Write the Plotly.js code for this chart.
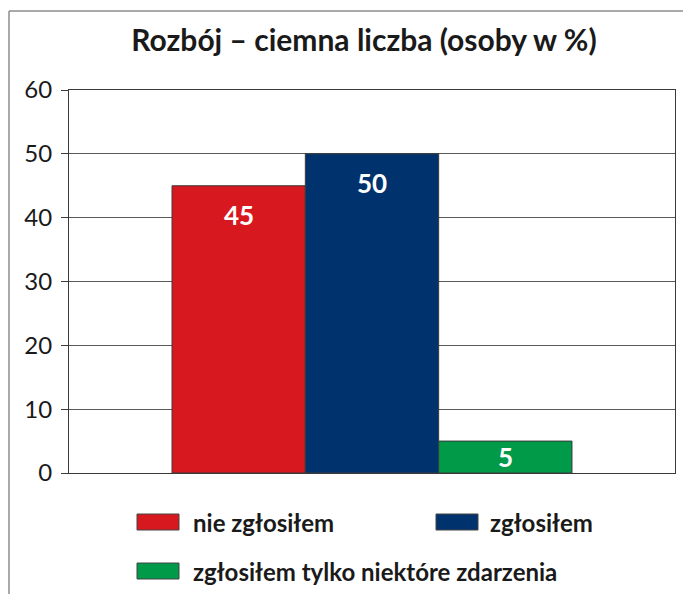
<!DOCTYPE html>
<html>
<head>
<meta charset="utf-8">
<script src="https://cdn.plot.ly/plotly-3.0.1.min.js"></script>
<style>html,body{margin:0;padding:0;background:#fff;}#chart{width:683px;height:594px;}</style>
</head>
<body>
<div id="chart"></div>
<script>
// ---- data ----
const categories = ['Rozbój'];
const seriesNames = ['nie zgłosiłem', 'zgłosiłem', 'zgłosiłem tylko niektóre zdarzenia'];
const seriesValues = [[45], [50], [5]];
const seriesColors = ['#d7191f', '#00326e', '#009a48'];
const titleText = 'Rozbój – ciemna liczba (osoby w %)';
const yTicks = [0, 10, 20, 30, 40, 50, 60];

// ---- layout constants ----
const W = 683, H = 594;
const M = {l: 69, r: 8, t: 90, b: 121};
const PW = W - M.l - M.r, PH = H - M.t - M.b;
const YMAX = 60;
const bargap = 0.34;
const FONT = 'Lato, "Open Sans", sans-serif';
const px2x = px => (px - M.l) / PW;
const py2y = py => (H - M.b - py) / PH;

const traces = seriesNames.map((name, i) => ({
  type: 'bar',
  name: name,
  x: [0],
  y: seriesValues[i],
  marker: {color: seriesColors[i], line: {color: '#3a3a3a', width: 1}},
  hoverinfo: 'name+y',
  showlegend: false
}));

// value labels on bars (positioned via bar-group geometry)
const n = seriesNames.length;
const bw = (1 - bargap) / n;
const LABEL_SIZE = 26, LABEL_PAD = 11;
const annotations = [];
seriesValues.forEach((vals, i) => {
  vals.forEach((v, j) => {
    const hPx = v / YMAX * PH;
    const fitsTop = hPx > LABEL_SIZE + 2 * LABEL_PAD;
    annotations.push({
      xref: 'x', yref: 'y',
      x: j + (i - (n - 1) / 2) * bw,
      y: fitsTop ? v : v / 2,
      yanchor: fitsTop ? 'top' : 'middle', yshift: fitsTop ? -LABEL_PAD : 0,
      text: '<b>' + v + '</b>', showarrow: false,
      font: {family: FONT, size: LABEL_SIZE, color: '#ffffff'}
    });
  });
});

// custom legend (two rows)
const legendPos = [
  {sx: 137, sy: 514, tx: 193},
  {sx: 436, sy: 514, tx: 490},
  {sx: 137, sy: 563, tx: 193}
];
const shapes = [];
seriesNames.forEach((name, i) => {
  const p = legendPos[i];
  shapes.push({
    type: 'rect', xref: 'paper', yref: 'paper', layer: 'above',
    x0: px2x(p.sx), x1: px2x(p.sx + 42), y0: py2y(p.sy), y1: py2y(p.sy + 16),
    fillcolor: seriesColors[i], line: {color: '#444', width: 1}
  });
  annotations.push({
    xref: 'paper', yref: 'paper', x: px2x(p.tx - 2), y: py2y(p.sy + 8),
    xanchor: 'left', yanchor: 'middle', showarrow: false,
    text: '<b>' + name + '</b>',
    font: {family: FONT, size: 24, color: '#1a1a1a'}
  });
});

// figure frame (top + left)
shapes.push({type: 'line', xref: 'paper', yref: 'paper', x0: px2x(9), x1: px2x(W + 2), y0: py2y(11), y1: py2y(11), line: {color: '#8c8c8c', width: 1.5}});
shapes.push({type: 'line', xref: 'paper', yref: 'paper', x0: px2x(9), x1: px2x(9), y0: py2y(11), y1: py2y(H + 2), line: {color: '#8c8c8c', width: 1.5}});

const layout = {
  width: W, height: H,
  margin: M,
  paper_bgcolor: '#ffffff', plot_bgcolor: '#ffffff',
  barmode: 'group', bargap: bargap, bargroupgap: 0,
  showlegend: false,
  title: {
    text: '<b>' + titleText + '</b>',
    x: 364 / W, xref: 'container', xanchor: 'center',
    y: 1 - 40 / H, yref: 'container', yanchor: 'middle',
    font: {family: FONT, size: 30, color: '#1a1a1a'}
  },
  xaxis: {
    range: [-0.5, 0.5], showticklabels: false, ticks: '', showgrid: false,
    zeroline: false, showline: true, linecolor: '#3a3a3a', linewidth: 1, mirror: true,
    fixedrange: true
  },
  yaxis: {
    range: [0, YMAX], tickvals: yTicks, ticktext: yTicks.map(String),
    ticks: 'outside', ticklen: 7, tickcolor: '#3a3a3a', tickwidth: 1,
    showgrid: true, gridcolor: '#5a5a5a', gridwidth: 1,
    zeroline: false, showline: true, linecolor: '#3a3a3a', linewidth: 1, mirror: true,
    tickfont: {family: FONT, size: 24, color: '#1a1a1a'}, ticklabelstandoff: 4,
    fixedrange: true
  },
  shapes: shapes,
  annotations: annotations
};

Plotly.newPlot('chart', traces, layout, {displayModeBar: false, staticPlot: true});
</script>
</body>
</html>
